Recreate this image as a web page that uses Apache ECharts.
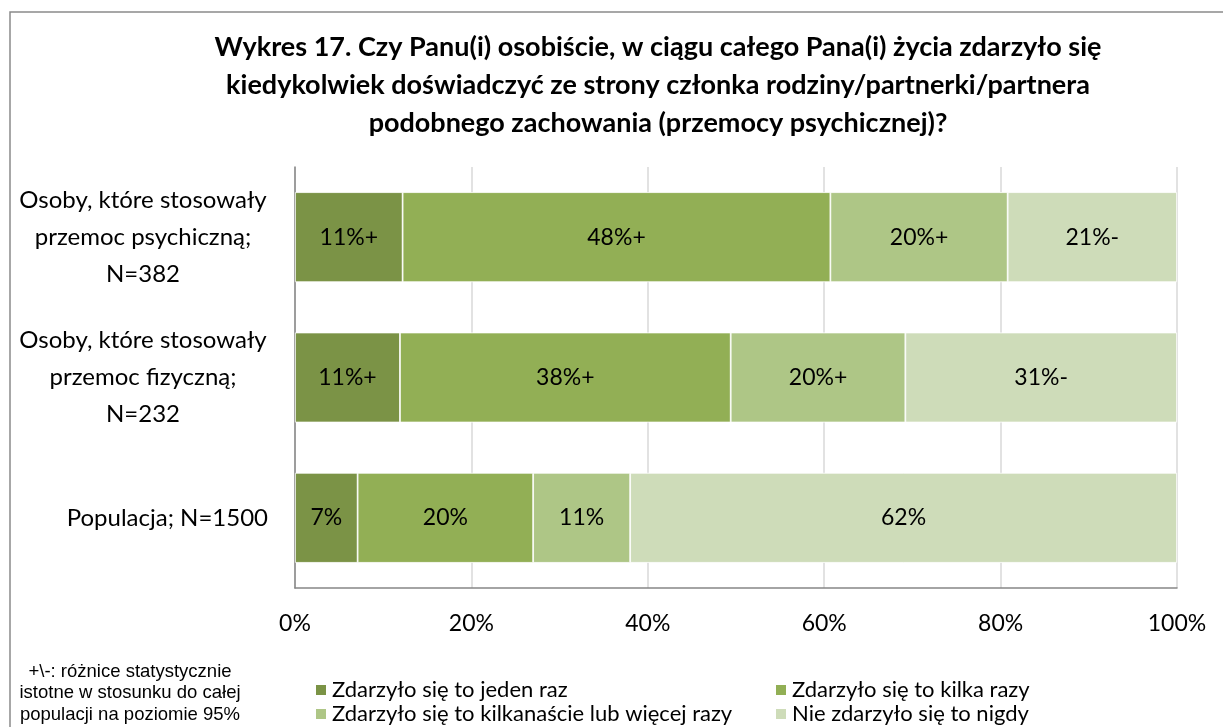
<!DOCTYPE html>
<html>
<head>
<meta charset="utf-8">
<script src="https://cdn.jsdelivr.net/npm/echarts@6/dist/echarts.min.js"></script>
<style>
  html, body { margin: 0; padding: 0; background: #fff; }
  #chart { width: 1223px; height: 727px; }
</style>
</head>
<body>
<div id="chart"></div>
<script>
  // categories, top to bottom
  var categories = [
    'Osoby, które stosowały\nprzemoc psychiczną;\nN=382',
    'Osoby, które stosowały\nprzemoc fizyczną;\nN=232',
    'Populacja; N=1500'
  ];
  var seriesNames = [
    'Zdarzyło się to jeden raz',
    'Zdarzyło się to kilka razy',
    'Zdarzyło się to kilkanaście lub więcej razy',
    'Nie zdarzyło się to nigdy'
  ];
  // bar lengths (%)
  var onceValues = [12.2, 11.9, 7.1];
  var fewValues = [48.5, 37.5, 19.9];
  var manyValues = [20.1, 19.8, 11.0];
  var neverValues = [19.2, 30.8, 62.0];
  // printed labels
  var onceLabels = ['11%+', '11%+', '7%'];
  var fewLabels = ['48%+', '38%+', '20%'];
  var manyLabels = ['20%+', '20%+', '11%'];
  var neverLabels = ['21%-', '31%-', '62%'];

  var colors = ['#7B9346', '#92AF55', '#AEC686', '#CEDCB9'];
  var font = 'Lato';

  var myChart = echarts.init(document.getElementById('chart'));

  function makeSeries(i, values, labels) {
    return {
      name: seriesNames[i],
      type: 'bar',
      stack: 'total',
      barWidth: 90,
      data: values,
      itemStyle: { color: colors[i], borderColor: '#fff', borderWidth: 0.8 },
      label: {
        show: true,
        position: 'inside',
        color: '#000',
        fontFamily: font,
        fontSize: 23,
        formatter: function (p) { return labels[p.dataIndex]; }
      }
    };
  }

  // one legend per item, laid out as 2 x 2 like the original
  function makeLegend(i, left, top) {
    return {
      data: [seriesNames[i]],
      left: left,
      top: top,
      itemWidth: 12,
      itemHeight: 12,
      icon: 'rect',
      textStyle: { fontFamily: font, fontSize: 22, color: '#000', lineHeight: 22 }
    };
  }

  var option = {
    animation: false,
    color: colors,
    graphic: [
      {
        type: 'rect',
        shape: { x: 10, y: 12, width: 1400, height: 900 },
        style: { fill: 'none', stroke: '#8a8a8a', lineWidth: 1.5 },
        silent: true
      },
      {
        type: 'text',
        x: 658,
        y: 28,
        style: {
          text: 'Wykres 17. Czy Panu(i) osobiście, w ciągu całego Pana(i) życia zdarzyło się\nkiedykolwiek doświadczyć ze strony członka rodziny/partnerki/partnera\npodobnego zachowania (przemocy psychicznej)?',
          fontFamily: font,
          fontWeight: 'bold',
          fontSize: 27,
          lineHeight: 38,
          align: 'center',
          verticalAlign: 'top',
          fill: '#000'
        }
      },
      {
        type: 'text',
        x: 130,
        y: 661,
        style: {
          text: '+\\-: różnice statystycznie\nistotne w stosunku do całej\npopulacji na poziomie 95%',
          fontFamily: 'Liberation Sans',
          fontSize: 18.5,
          lineHeight: 21.5,
          align: 'center',
          verticalAlign: 'top',
          fill: '#000'
        }
      }
    ],
    legend: [
      makeLegend(0, 309, 674),
      makeLegend(1, 769, 674),
      makeLegend(2, 309, 698),
      makeLegend(3, 769, 698)
    ],
    grid: { left: 295, right: 46, top: 167, bottom: 139, containLabel: false },
    xAxis: {
      type: 'value',
      min: 0,
      max: 100,
      interval: 20,
      axisLine: { show: true, lineStyle: { color: '#868686', width: 1.5 } },
      axisTick: { show: false },
      splitLine: { show: true, lineStyle: { color: '#D9D9D9', width: 1.5 } },
      axisLabel: {
        formatter: '{value}%',
        color: '#000',
        fontFamily: font,
        fontSize: 23,
        margin: 24
      }
    },
    yAxis: {
      type: 'category',
      inverse: true,
      data: categories,
      axisLine: { show: true, lineStyle: { color: '#868686', width: 1.5 } },
      axisTick: { show: false },
      axisLabel: {
        color: '#000',
        fontFamily: font,
        fontSize: 24,
        lineHeight: 37,
        align: 'right',
        margin: 27,
        formatter: function (v) {
          var lines = v.split('\n');
          if (lines.length === 1) return v;
          return lines.map(function (l) { return '{c|' + l + '}'; }).join('\n');
        },
        rich: {
          c: { width: 250, align: 'center', fontFamily: font, fontSize: 24, lineHeight: 37, color: '#000' }
        }
      }
    },
    series: [
      makeSeries(0, onceValues, onceLabels),
      makeSeries(1, fewValues, fewLabels),
      makeSeries(2, manyValues, manyLabels),
      makeSeries(3, neverValues, neverLabels)
    ]
  };

  myChart.setOption(option);
</script>
</body>
</html>
